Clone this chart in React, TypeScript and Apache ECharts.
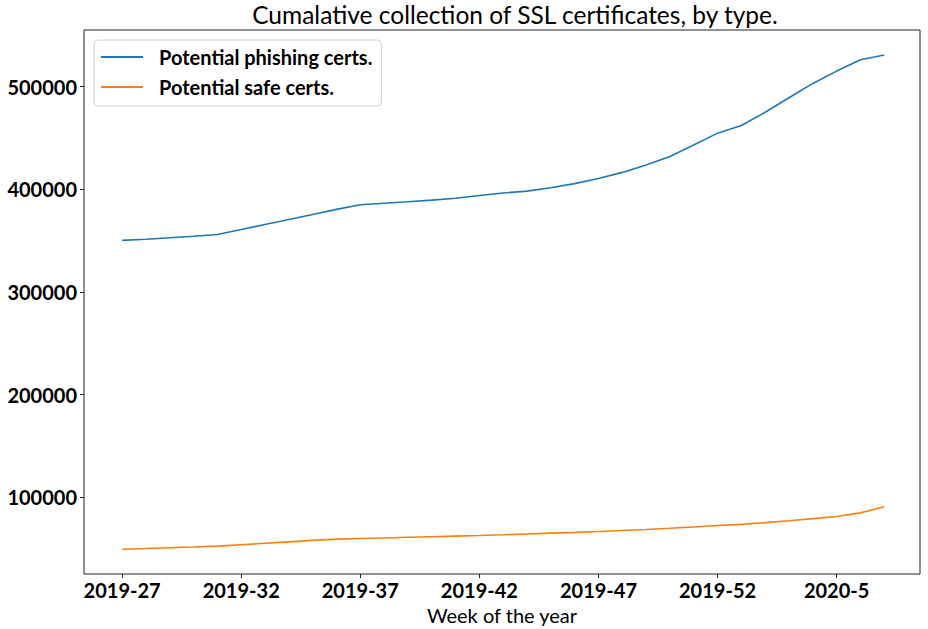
import React, { useEffect, useRef } from "react";
import * as echarts from "echarts";

const weeks: string[] = [
  "2019-27", "2019-28", "2019-29", "2019-30", "2019-31", "2019-32", "2019-33", "2019-34",
  "2019-35", "2019-36", "2019-37", "2019-38", "2019-39", "2019-40", "2019-41", "2019-42",
  "2019-43", "2019-44", "2019-45", "2019-46", "2019-47", "2019-48", "2019-49", "2019-50",
  "2019-51", "2019-52", "2020-1", "2020-2", "2020-3", "2020-4", "2020-5", "2020-6", "2020-7",
];

const phishing: number[] = [
  350200, 351300, 352800, 354200, 356000, 360800, 365700, 370600, 375500, 380400,
  384900, 386300, 387800, 389400, 391300, 393900, 396300, 398200, 401500, 405500,
  410500, 416400, 423600, 431900, 443100, 454600, 462000, 475000, 489000, 503000,
  515000, 526000, 530700,
];

const safe: number[] = [
  49600, 50300, 51100, 51800, 52600, 54000, 55400, 56800, 58200, 59400,
  60000, 60600, 61200, 61800, 62400, 63000, 63700, 64500, 65300, 66000,
  66800, 67800, 68800, 70000, 71300, 72700, 73800, 75500, 77400, 79400,
  81500, 85000, 91000,
];

const xTicks: number[] = [0, 5, 10, 15, 20, 25, 30];
const yTicks: number[] = [100000, 200000, 300000, 400000, 500000];

const seriesNames = ["Potential phishing certs.", "Potential safe certs."];

export default function App() {
  const ref = useRef<HTMLDivElement>(null);
  useEffect(() => {
    if (!ref.current) return;
    const chart = echarts.init(ref.current, undefined, { renderer: "svg" });
    const font = "Lato";
    chart.setOption({
      animation: false,
      backgroundColor: "#ffffff",
      textStyle: { fontFamily: font },
      title: {
        text: "Cumalative collection of SSL certificates, by type.",
        left: 510,
        top: -3,
        textAlign: "center",
        textStyle: { fontFamily: font, fontSize: 24.5, fontWeight: "normal", color: "#000" },
      },
      grid: {
        left: 84,
        right: 8,
        top: 30,
        bottom: 55,
        show: true,
        borderColor: "#222",
        borderWidth: 1,
        backgroundColor: "transparent",
        outerBoundsMode: "none",
        containLabel: false,
      },
      legend: {
        orient: "vertical",
        left: 94,
        top: 40,
        padding: [5, 9, 7, 7],
        itemGap: 6,
        itemWidth: 42,
        itemHeight: 2,
        icon: "rect",
        borderColor: "#d0d0d0",
        borderWidth: 1,
        borderRadius: 4,
        data: seriesNames,
        textStyle: {
          fontFamily: font,
          fontSize: 20,
          fontWeight: "bold",
          color: "#000",
          lineHeight: 24,
          padding: [0, 0, 0, 11],
        },
      },
      xAxis: {
        type: "value",
        min: -1.6,
        max: 33.5,
        name: "Week of the year",
        nameLocation: "middle",
        nameGap: 20,
        nameTextStyle: { fontFamily: font, fontSize: 20, color: "#000" },
        axisLine: { show: false, onZero: false },
        splitLine: { show: false },
        axisTick: {
          show: true,
          length: 4,
          customValues: xTicks,
          lineStyle: { color: "#222" },
        },
        axisLabel: {
          customValues: xTicks,
          margin: 6,
          fontFamily: font,
          fontSize: 20,
          fontWeight: "bold",
          color: "#000",
          formatter: (v: number) => weeks[Math.round(v)] ?? "",
        },
      },
      yAxis: {
        type: "value",
        min: 25500,
        max: 555000,
        axisLine: { show: false, onZero: false },
        splitLine: { show: false },
        axisTick: {
          show: true,
          length: 4,
          customValues: yTicks,
          lineStyle: { color: "#222" },
        },
        axisLabel: {
          customValues: yTicks,
          margin: 7,
          fontFamily: font,
          fontSize: 20,
          fontWeight: "bold",
          color: "#000",
          formatter: (v: number) => String(v),
        },
      },
      series: [
        {
          name: seriesNames[0],
          type: "line",
          data: phishing.map((v, i) => [i, v]),
          showSymbol: false,
          symbol: "none",
          lineStyle: { color: "#1f77b4", width: 1.6 },
          itemStyle: { color: "#1f77b4" },
        },
        {
          name: seriesNames[1],
          type: "line",
          data: safe.map((v, i) => [i, v]),
          showSymbol: false,
          symbol: "none",
          lineStyle: { color: "#ff7f0e", width: 1.6 },
          itemStyle: { color: "#ff7f0e" },
        },
      ],
    });
    return () => chart.dispose();
  }, []);
  return <div ref={ref} style={{ width: 928, height: 629, position: "absolute", left: 0, top: 0 }} />;
}
